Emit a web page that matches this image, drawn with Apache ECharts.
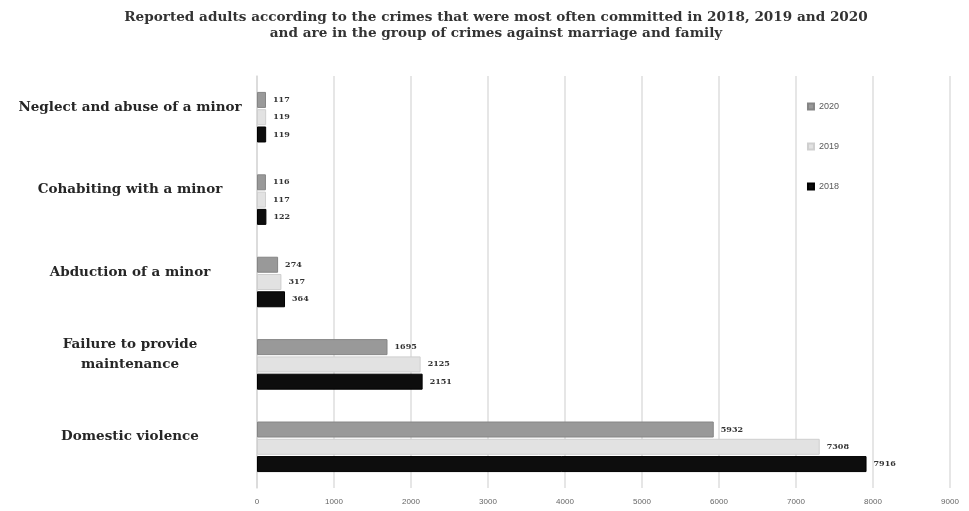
<!DOCTYPE html>
<html>
<head>
<meta charset="utf-8">
<script src="https://cdn.jsdelivr.net/npm/echarts@6/dist/echarts.min.js"></script>
<style>
html,body{margin:0;padding:0;background:#fff;}
#chart{width:969px;height:511px;}
</style>
</head>
<body>
<div id="chart"></div>
<script>
// Categories listed bottom-to-top (category axis runs upward)
const categories = ['Domestic violence', 'Failure to provide\nmaintenance', 'Abduction of a minor', 'Cohabiting with a minor', 'Neglect and abuse of a minor'];
const years = ['2020', '2019', '2018'];
const values2018 = [7916, 2151, 364, 122, 119];
const values2019 = [7308, 2125, 317, 117, 119];
const values2020 = [5932, 1695, 274, 116, 117];
const xTicks = [0, 1000, 2000, 3000, 4000, 5000, 6000, 7000, 8000, 9000];

const serif = '"DejaVu Serif", "Liberation Serif", serif';
const colors = { '2018': '#0d0d0d', '2019': '#e2e2e2', '2020': '#999999' };
const borders = { '2018': '#000000', '2019': '#cfcfcf', '2020': '#858585' };
const dataByYear = { '2018': values2018, '2019': values2019, '2020': values2020 };

const chart = echarts.init(document.getElementById('chart'), null, { renderer: 'canvas' });
chart.setOption({
  animation: false,
  backgroundColor: '#ffffff',
  title: {
    text: 'Reported adults according to the crimes that were most often committed in 2018, 2019 and 2020\nand are in the group of crimes against marriage and family',
    left: 491,
    top: 4,
    textAlign: 'center',
    textStyle: { fontFamily: serif, fontWeight: 'bold', fontSize: 13.6, color: '#333333', lineHeight: 16 }
  },
  legend: {
    orient: 'vertical',
    right: 125,
    top: 97,
    itemWidth: 6,
    itemHeight: 6,
    itemGap: 31,
    icon: 'rect',
    data: ['2020', '2019', '2018'],
    textStyle: { fontSize: 9, color: '#595959', fontFamily: 'Liberation Sans, sans-serif' }
  },
  grid: { left: 257, right: 19, top: 76, bottom: 23, containLabel: false },
  xAxis: {
    type: 'value',
    min: xTicks[0],
    max: xTicks[xTicks.length - 1],
    interval: 1000,
    axisLine: { show: false },
    axisTick: { show: false },
    axisLabel: { fontSize: 8, color: '#666666', margin: 10, fontFamily: 'Liberation Sans, sans-serif', formatter: v => String(v) },
    splitLine: { show: true, lineStyle: { color: '#dedede', width: 1.5 } }
  },
  yAxis: {
    type: 'category',
    data: categories,
    axisLine: { show: true, lineStyle: { color: '#d9d9d9', width: 1.5 } },
    axisTick: { show: false },
    axisLabel: {
      fontFamily: serif,
      fontWeight: 'bold',
      fontSize: 13.5,
      color: '#262626',
      align: 'center',
      margin: 127,
      lineHeight: 20,
      formatter: v => v + '\n '
    }
  },
  series: years.map(y => ({
    name: y,
    type: 'bar',
    data: dataByYear[y],
    barWidth: 16,
    barGap: '8%',
    barCategoryGap: '40%',
    itemStyle: { color: colors[y], borderColor: borders[y], borderWidth: 1 },
    label: {
      show: true,
      position: 'right',
      distance: 7,
      fontFamily: serif,
      fontWeight: 'bold',
      fontSize: 8,
      color: '#333333'
    }
  }))
});
</script>
</body>
</html>
